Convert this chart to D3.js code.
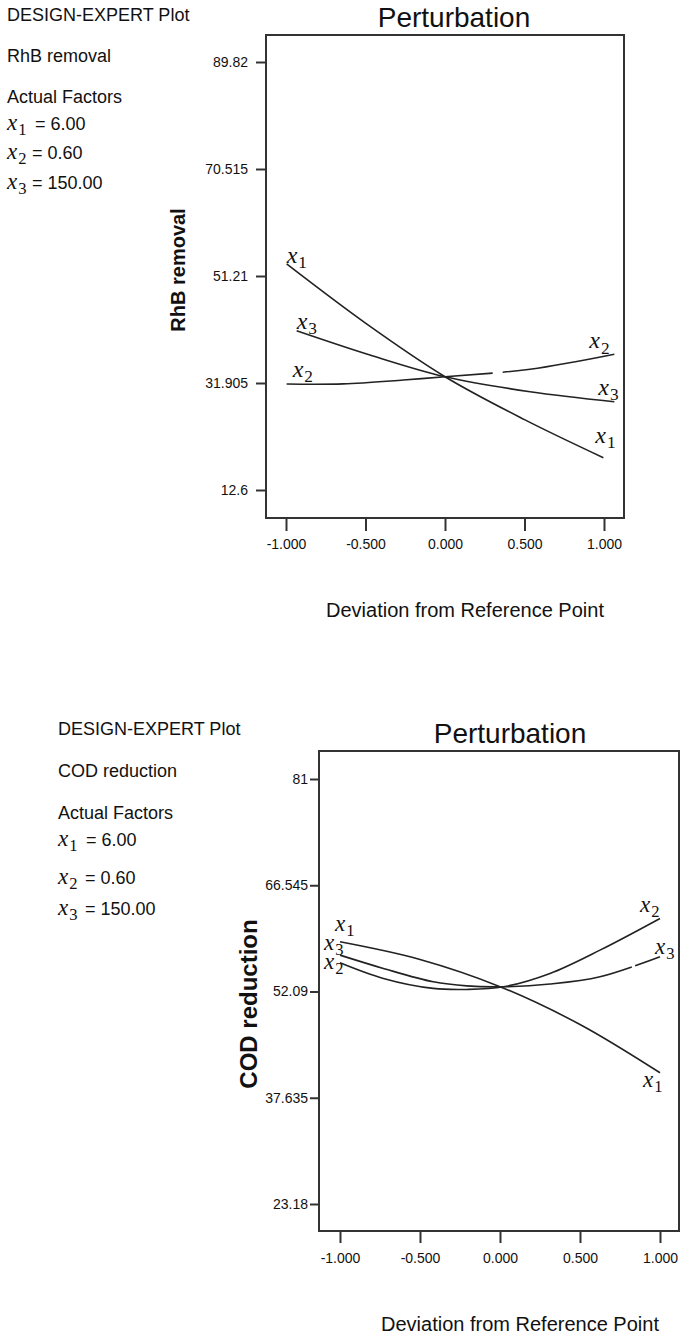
<!DOCTYPE html>
<html><head><meta charset="utf-8">
<script src="https://cdn.jsdelivr.net/npm/d3@7"></script>
<style>
body{margin:0;background:#fff;}
svg{display:block;font-family:"Liberation Sans",Arial,sans-serif;}
</style></head><body>
<svg id="c" width="696" height="1341"></svg>
<script>
// ---------- data ----------
const devTicks = [-1, -0.5, 0, 0.5, 1];
const devTickLabels = ["-1.000", "-0.500", "0.000", "0.500", "1.000"];

const rhbTicks = [12.6, 31.905, 51.21, 70.515, 89.82];
const rhbTickLabels = ["12.6", "31.905", "51.21", "70.515", "89.82"];
const codTicks = [23.18, 37.635, 52.09, 66.545, 81];
const codTickLabels = ["23.18", "37.635", "52.09", "66.545", "81"];

const factorSubs = ["1", "2", "3"];
const factorValues = ["6.00", "0.60", "150.00"];

// RhB removal perturbation curves
const rhbX1Dev = [-0.996, -0.5, 0, 0.5, 0.996];
const rhbX1Val = [53.38, 42.7, 33.04, 25.3, 18.43];
const rhbX2Dev = [-0.996, -0.64, -0.262, 0, 0.535, 1.065];
const rhbX2Val = [31.72, 31.75, 32.45, 33.04, 34.38, 37.08];
const rhbX3Dev = [-0.933, -0.472, 0, 0.535, 1.065];
const rhbX3Val = [41.34, 36.96, 33.04, 30.34, 28.53];
const rhbX2Gap = [0.30, 0.363];

// COD reduction perturbation curves
const codX1Dev = [-1, -0.5, 0, 0.5, 1];
const codX1Val = [58.85, 56.45, 52.75, 47.6, 41.03];
const codX2Dev = [-1, -0.729, -0.417, -0.208, 0.021, 0.3125, 0.625, 1];
const codX2Val = [56.0, 53.87, 52.51, 52.37, 52.73, 54.55, 57.72, 62.03];
const codX3Dev = [-1, -0.729, -0.417, -0.208, 0.021, 0.3125, 0.625, 1];
const codX3Val = [57.04, 55.23, 53.41, 52.85, 52.73, 53.1, 54.09, 56.81];
const codX3Gap = [0.823, 0.844];

// ---------- drawing ----------
const svg = d3.select("#c");
const INK = "#111";
const SERIF = "'Liberation Serif','DejaVu Serif',serif";

function mathX(sel, x, y, sub, size) {
  const t = sel.append("text").attr("x", x).attr("y", y)
    .attr("font-family", SERIF).attr("fill", INK);
  t.append("tspan").attr("font-style", "italic").attr("font-size", size).text("x");
  t.append("tspan").attr("font-size", size * 0.72).attr("dy", size * 0.22).attr("dx", 1).text(sub);
  return t;
}

function infoBlock(o, title) {
  const g = svg.append("g");
  const fs = 18;
  g.append("text").attr("x", o.x).attr("y", o.y0).attr("font-size", fs).attr("fill", INK).text("DESIGN-EXPERT Plot");
  g.append("text").attr("x", o.x).attr("y", o.y1).attr("font-size", fs).attr("fill", INK).text(title);
  g.append("text").attr("x", o.x).attr("y", o.y2).attr("font-size", fs).attr("fill", INK).text("Actual Factors");
  factorSubs.forEach((s, i) => {
    mathX(g, o.x, o.fy[i], s, 23);
    g.append("text").attr("x", o.eqx[i]).attr("y", o.fy[i]).attr("font-size", fs).attr("fill", INK)
      .text("= " + factorValues[i]);
  });
}

function panel(cfg) {
  const x = d3.scaleLinear().domain([-1, 1]).range(cfg.xRange);
  const y = d3.scaleLinear().domain([cfg.ticks[0], cfg.ticks[cfg.ticks.length - 1]]).range(cfg.yRange);
  const g = svg.append("g");

  g.append("text").attr("x", cfg.titleX).attr("y", cfg.titleY).attr("text-anchor", "middle")
    .attr("font-size", 28).attr("fill", INK).text("Perturbation");

  g.append("rect").attr("x", cfg.frame[0]).attr("y", cfg.frame[1])
    .attr("width", cfg.frame[2] - cfg.frame[0]).attr("height", cfg.frame[3] - cfg.frame[1])
    .attr("fill", "none").attr("stroke", "#333").attr("stroke-width", 2);

  const ya = g.append("g").attr("transform", `translate(${cfg.frame[0]},0)`)
    .call(d3.axisLeft(y).tickValues(cfg.ticks).tickFormat((d, i) => cfg.tickLabels[i])
      .tickSize(cfg.yTickSize).tickPadding(cfg.yTickPad));
  ya.select(".domain").remove();
  ya.selectAll("line").attr("stroke", "#333").attr("stroke-width", 2);
  ya.selectAll("text").attr("font-size", 14).attr("fill", "#111").attr("font-family", "'Liberation Sans',Arial,sans-serif");

  const xa = g.append("g").attr("transform", `translate(0,${cfg.frame[3]})`)
    .call(d3.axisBottom(x).tickValues(devTicks).tickFormat((d, i) => devTickLabels[i])
      .tickSize(cfg.xTickSize).tickPadding(cfg.xTickPad));
  xa.select(".domain").remove();
  xa.selectAll("line").attr("stroke", "#333").attr("stroke-width", 2);
  xa.selectAll("text").attr("font-size", 14).attr("fill", "#111").attr("font-family", "'Liberation Sans',Arial,sans-serif");

  g.append("text").attr("x", cfg.xTitle[0]).attr("y", cfg.xTitle[1]).attr("text-anchor", "middle")
    .attr("font-size", 20).attr("fill", INK).text("Deviation from Reference Point");
  g.append("text").attr("transform", `translate(${cfg.yTitle[0]},${cfg.yTitle[1]}) rotate(-90)`)
    .attr("text-anchor", "middle").attr("font-size", cfg.yTitleSize).attr("font-weight", "bold")
    .attr("fill", INK).text(cfg.yTitleText);

  const line = d3.line().x(d => x(d[0])).y(d => y(d[1])).curve(d3.curveCatmullRom.alpha(0.5));
  cfg.series.forEach(s => {
    const pts = s.dev.map((d, i) => [d, s.val[i]]);
    const p = g.append("path").datum(pts).attr("d", line)
      .attr("fill", "none").attr("stroke", "#222").attr("stroke-width", 1.6);
    if (s.gap) {
      const node = p.node();
      const total = node.getTotalLength();
      const findLen = (px) => {
        let lo = 0, hi = total;
        for (let k = 0; k < 40; k++) {
          const mid = (lo + hi) / 2;
          if (node.getPointAtLength(mid).x < px) lo = mid; else hi = mid;
        }
        return lo;
      };
      const l0 = findLen(x(s.gap[0])), l1 = findLen(x(s.gap[1]));
      p.attr("stroke-dasharray", `${l0} ${l1 - l0} ${total}`);
    }
    const st = pts[0], en = pts[pts.length - 1];
    mathX(g, x(st[0]) + s.startOff[0], y(st[1]) + s.startOff[1], s.sub, cfg.labelSize);
    mathX(g, x(en[0]) + s.endOff[0], y(en[1]) + s.endOff[1], s.sub, cfg.labelSize);
  });
}

infoBlock({x: 7, y0: 21, y1: 62, y2: 103, fy: [130, 159, 189], eqx: [35, 32, 32]}, "RhB removal");
infoBlock({x: 58, y0: 735, y1: 777, y2: 819, fy: [846, 884, 915], eqx: [86, 85, 85]}, "COD reduction");

panel({
  xRange: [286, 604], yRange: [490, 62],
  ticks: rhbTicks, tickLabels: rhbTickLabels,
  frame: [266, 35, 624, 518],
  yTickSize: 10, yTickPad: 8, xTickSize: 13, xTickPad: 8,
  titleX: 454, titleY: 27, labelSize: 24,
  xTitle: [465, 617], yTitle: [185, 270], yTitleSize: 20, yTitleText: "RhB removal",
  series: [
    {dev: rhbX1Dev, val: rhbX1Val, sub: "1", startOff: [0, -1], endOff: [-8, -15]},
    {dev: rhbX2Dev, val: rhbX2Val, sub: "2", startOff: [6, -7], endOff: [-25, -6], gap: rhbX2Gap},
    {dev: rhbX3Dev, val: rhbX3Val, sub: "3", startOff: [0, -2], endOff: [-16, -7]}
  ]
});

panel({
  xRange: [340, 660], yRange: [1204, 779],
  ticks: codTicks, tickLabels: codTickLabels,
  frame: [319, 751, 679, 1231],
  yTickSize: 9, yTickPad: 2, xTickSize: 12, xTickPad: 10,
  titleX: 510, titleY: 743, labelSize: 23,
  xTitle: [520, 1331], yTitle: [257, 1004], yTitleSize: 24, yTitleText: "COD reduction",
  series: [
    {dev: codX1Dev, val: codX1Val, sub: "1", startOff: [-5, -11], endOff: [-17, 14]},
    {dev: codX2Dev, val: codX2Val, sub: "2", startOff: [-16, 6], endOff: [-20, -6]},
    {dev: codX3Dev, val: codX3Val, sub: "3", startOff: [-16, -5], endOff: [-5, -3], gap: codX3Gap}
  ]
});
</script>
</body></html>
